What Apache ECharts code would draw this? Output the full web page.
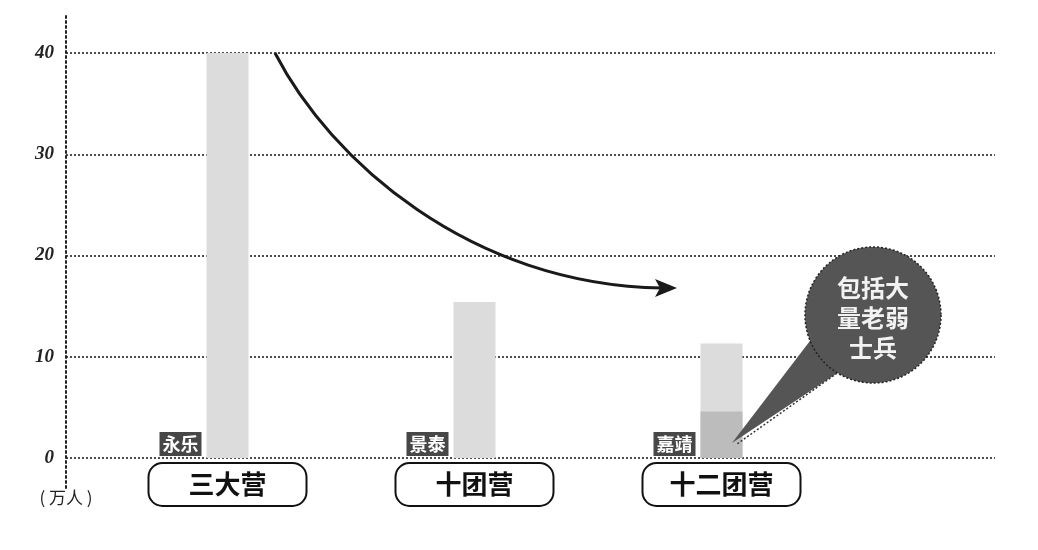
<!DOCTYPE html>
<html>
<head>
<meta charset="utf-8">
<script src="https://cdn.jsdelivr.net/npm/echarts@6/dist/echarts.min.js"></script>
<style>
html,body{margin:0;padding:0;background:#fff;}
#main{width:1038px;height:550px;}
</style>
</head>
<body>
<div id="main"></div>
<script>
// ---- data ----
var categories = ['三大营', '十团营', '十二团营'];
var eras = ['永乐', '景泰', '嘉靖'];
var totals = [40, 15.4, 11.3];          // 万人
var weak = ['-', '-', 4.6];              // 老弱部分 (万人)
var yTicks = [0, 10, 20, 30, 40];
var unitLabel = '( 万人 )';
var bubbleText = ['包括大', '量老弱', '士兵'];

var CJK = '"Noto Sans CJK SC", sans-serif';
var SERIF = '"Liberation Serif", "DejaVu Serif", serif';

var chart = echarts.init(document.getElementById('main'), null, {renderer: 'canvas'});

var option = {
  backgroundColor: '#fff',
  animation: false,
  grid: [
    {left: 66, right: 43, top: 53, bottom: 92},   // gridlines + y labels
    {left: 66, right: 43, top: 15, bottom: 62},   // extended y axis line
    {left: 104, right: 193, top: 53, bottom: 92}  // bars
  ],
  xAxis: [
    {gridIndex: 0, type: 'value', show: false, min: 0, max: 1},
    {gridIndex: 1, type: 'value', show: false, min: 0, max: 1},
    {
      gridIndex: 2, type: 'category', data: categories,
      axisLine: {show: false}, axisTick: {show: false},
      axisLabel: {
        margin: 6,
        formatter: function (v) { return '{b|' + v + '}'; },
        rich: {
          b: {
            width: 152, height: 33, align: 'center', verticalAlign: 'middle',
            fontSize: 26, fontWeight: 'bold', fontFamily: CJK, color: '#111',
            backgroundColor: '#fff', borderColor: '#111', borderWidth: 2,
            borderRadius: 13, padding: [4, 2]
          }
        }
      }
    }
  ],
  yAxis: [
    {
      gridIndex: 0, type: 'value', min: yTicks[0], max: yTicks[yTicks.length - 1], interval: 10,
      axisLine: {show: false}, axisTick: {show: false},
      axisLabel: {
        margin: 12, fontSize: 19, fontWeight: 'bold', fontStyle: 'italic',
        fontFamily: SERIF, color: '#222'
      },
      splitLine: {show: true, lineStyle: {color: '#222', width: 1.6, type: [2, 2]}}
    },
    {
      gridIndex: 1, type: 'value', min: 0, max: 1,
      axisLine: {show: true, lineStyle: {color: '#222', width: 2, type: [2, 3]}},
      axisTick: {show: false}, axisLabel: {show: false}, splitLine: {show: false},
      name: unitLabel, nameLocation: 'start', nameGap: 1,
      nameTextStyle: {fontFamily: CJK, fontSize: 17, color: '#222', align: 'center', verticalAlign: 'top'}
    },
    {
      gridIndex: 2, type: 'value', min: yTicks[0], max: yTicks[yTicks.length - 1], interval: 10,
      show: false, splitLine: {show: false}
    }
  ],
  series: [
    {
      type: 'bar', xAxisIndex: 2, yAxisIndex: 2, barWidth: 42,
      data: totals,
      itemStyle: {color: '#dcdcdc'},
      label: {
        show: true, position: 'insideBottomLeft', distance: 0, offset: [-47, -2],
        formatter: function (p) { return eras[p.dataIndex]; },
        color: '#fff', backgroundColor: '#474747', fontSize: 18, fontWeight: 'bold',
        fontFamily: CJK, padding: [1, 3], lineHeight: 22
      }
    },
    {
      type: 'bar', xAxisIndex: 2, yAxisIndex: 2, barWidth: 42, barGap: '-100%',
      data: weak,
      itemStyle: {color: '#bcbcbc'}
    }
  ],
  graphic: [
    {
      type: 'bezierCurve', z: 10,
      shape: {x1: 275, y1: 53, cpx1: 330, cpy1: 160, cpx2: 470, cpy2: 285, x2: 662, y2: 288},
      style: {stroke: '#1a1a1a', lineWidth: 3, fill: null}
    },
    {
      type: 'polygon', z: 10,
      shape: {points: [[677, 288], [655, 279], [660, 288], [655, 297]]},
      style: {fill: '#1a1a1a'}
    },
    {
      type: 'polygon', z: 10,
      shape: {points: [[816, 333], [842, 370], [732, 443]]},
      style: {fill: '#555'}
    },
    {
      type: 'line', z: 10,
      shape: {x1: 850, y1: 364, x2: 737, y2: 444},
      style: {stroke: '#333', lineWidth: 1.5, lineDash: [2, 2]}
    },
    {
      type: 'circle', z: 11,
      shape: {cx: 873, cy: 315, r: 68},
      style: {fill: '#555', stroke: '#222', lineWidth: 1.5, lineDash: [2, 2]}
    },
    {
      type: 'text', z: 12, x: 873, y: 318,
      style: {
        text: bubbleText.join('\n'), fill: '#f2f2f2', align: 'center', verticalAlign: 'middle',
        font: 'bold 24px "Noto Sans CJK SC", sans-serif', lineHeight: 30
      }
    }
  ]
};
chart.setOption(option);
</script>
</body>
</html>
